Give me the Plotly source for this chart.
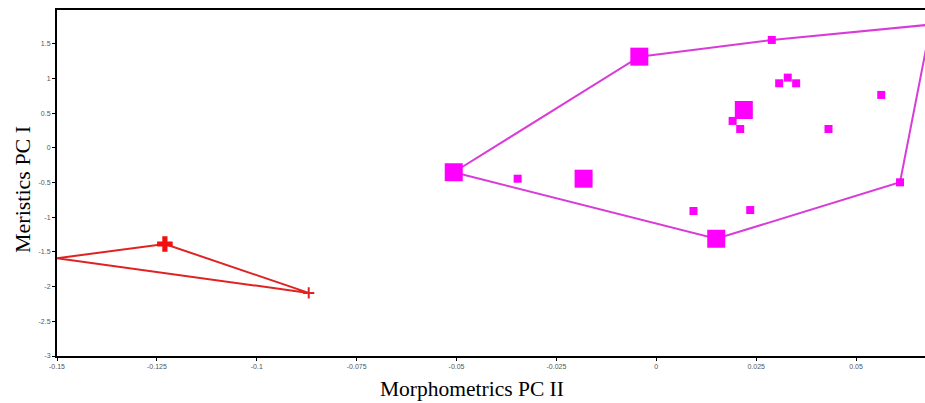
import plotly.graph_objects as go

# Red group (hull vertices and points)
red_x = [-0.15, -0.123, -0.087]
red_y = [-1.59, -1.385, -2.09]

# Magenta group points
mag_x = [-0.0507, -0.0347, -0.0182, -0.00425, 0.0289, 0.03075, 0.0329, 0.035,
         0.0219, 0.0191, 0.021, 0.0431, 0.0563, 0.061, 0.0093, 0.0235, 0.015]
mag_y = [-0.35, -0.443, -0.443, 1.317, 1.558, 0.933, 1.015, 0.933,
         0.548, 0.39, 0.274, 0.274, 0.765, -0.495, -0.909, -0.895, -1.309]
mag_sizes = [18, 8, 18, 18, 8, 8, 8, 8, 18, 8, 8, 8, 8, 8, 8, 8, 18]

# Magenta convex hull
hull_x = [-0.0507, -0.00425, 0.0289, 0.0687, 0.061, 0.015, -0.0507]
hull_y = [-0.35, 1.317, 1.558, 1.78, -0.495, -1.309, -0.35]

red_hull_x = red_x + [red_x[0]]
red_hull_y = red_y + [red_y[0]]

yticks = [1.5, 1, 0.5, 0, -0.5, -1, -1.5, -2, -2.5, -3]
ytick_text = ["1.5", "1", "0.5", "0", "-0.5", "-1", "-1.5", "-2", "-2.5", "-3"]
xticks = [-0.15, -0.125, -0.1, -0.075, -0.05, -0.025, 0, 0.025, 0.05]
xtick_text = ["-0.15", "-0.125", "-0.1", "-0.075", "-0.05", "-0.025", "0", "0.025", "0.05"]

fig = go.Figure()
fig.add_trace(go.Scatter(x=hull_x, y=hull_y, mode="lines",
                         line=dict(color="#D93BD9", width=2), hoverinfo="skip"))
fig.add_trace(go.Scatter(x=red_hull_x, y=red_hull_y, mode="lines",
                         line=dict(color="#E02222", width=2), hoverinfo="skip"))
fig.add_trace(go.Scatter(x=mag_x, y=mag_y, mode="markers",
                         marker=dict(symbol="square", size=mag_sizes, color="#FF00FF",
                                     opacity=1, line=dict(width=0))))
fig.add_trace(go.Scatter(x=red_x[1:2], y=red_y[1:2], mode="markers",
                         marker=dict(symbol="cross", size=13, color="#F01010",
                                     opacity=1, line=dict(width=0))))
fig.add_trace(go.Scatter(x=red_x[2:3], y=red_y[2:3], mode="markers",
                         marker=dict(symbol="cross-thin", size=8,
                                     line=dict(width=2, color="#E02222"))))

fig.update_layout(
    width=925, height=403,
    margin=dict(l=57, r=0, t=10, b=47),
    paper_bgcolor="white", plot_bgcolor="white",
    showlegend=False,
    annotations=[
        dict(text="Morphometrics PC II", xref="paper", yref="paper",
             x=(472 - 57) / 868, y=-0.095, xanchor="center", yanchor="middle",
             showarrow=False,
             font=dict(family="Liberation Serif", size=21.5, color="black")),
        dict(text="Meristics PC I", xref="paper", yref="paper",
             x=(22 - 57) / 868, y=(356 - 190) / 346, xanchor="center", yanchor="middle",
             textangle=-90, showarrow=False,
             font=dict(family="Liberation Serif", size=22, color="black")),
    ],
)
fig.update_xaxes(
    range=[-0.15, 0.06725],
    tickvals=xticks, ticktext=xtick_text,
    showgrid=False, zeroline=False,
    showline=True, linecolor="black", linewidth=2, mirror=True,
    ticks="outside", ticklen=3, tickcolor="black", tickwidth=1,
    tickfont=dict(family="Liberation Sans", size=7, color="#555555"),
)
fig.update_yaxes(
    range=[-3, 1.99],
    tickvals=yticks, ticktext=ytick_text,
    showgrid=False, zeroline=False,
    showline=True, linecolor="black", linewidth=2, mirror=False,
    ticks="outside", ticklen=3, tickcolor="black", tickwidth=1,
    tickfont=dict(family="Liberation Sans", size=7, color="#555555"),
)

fig.write_html("out.html")
